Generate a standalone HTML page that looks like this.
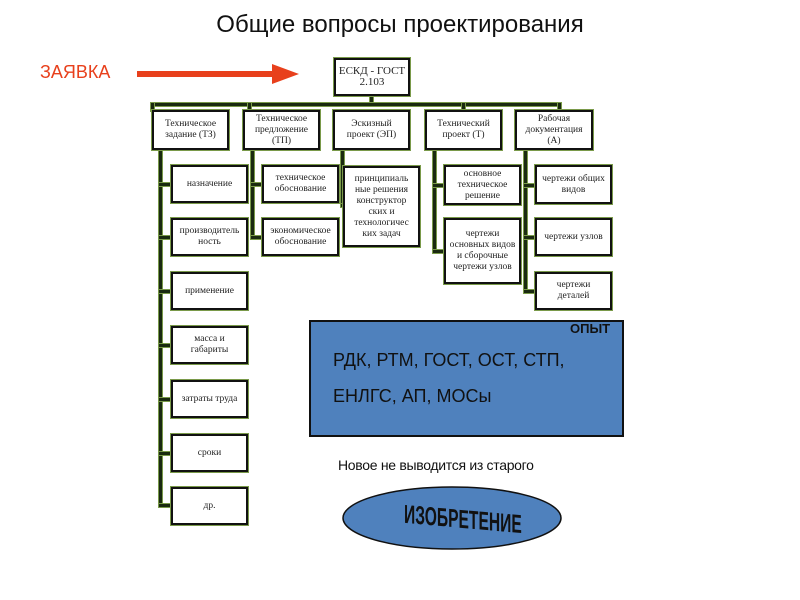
<!DOCTYPE html>
<html><head><meta charset="utf-8"><style>
body{margin:0;width:800px;height:600px;background:#fff;position:relative;overflow:hidden;font-family:"Liberation Serif","Noto Serif CJK SC",serif}
.b{position:absolute;box-sizing:border-box;border:2px solid #111;box-shadow:0 0 0 1px #7a9a4a;background:#fff;display:flex;align-items:center;justify-content:center;text-align:center;font-size:9.5px;line-height:11px;color:#222}
.l{position:absolute;background:#1a2a10;box-shadow:0 0 0 1px #7a9a4a}
.s{position:absolute;font-family:"Liberation Sans","Noto Sans CJK SC",sans-serif}
</style></head><body>
<div class="s" style="left:0;width:800px;top:11px;text-align:center;font-size:24px;color:#111">Общие вопросы проектирования</div>
<div class="s" style="left:40px;top:62px;font-size:18px;color:#e8401c">ЗАЯВКА</div>
<svg style="position:absolute;left:0;top:0" width="800" height="600">
<rect x="137" y="71" width="138" height="6" fill="#e8401c"/>
<polygon points="272,64 299,74 272,84" fill="#e8401c"/>
<ellipse cx="452" cy="518" rx="109" ry="31" fill="#4f81bd" stroke="#111" stroke-width="1.5"/>
</svg>
<div class="l" style="left:370px;top:96px;width:3px;height:9px"></div>
<div class="l" style="left:151px;top:103px;width:410px;height:3px"></div>
<div class="l" style="left:151px;top:103px;width:3px;height:8px"></div>
<div class="l" style="left:248px;top:103px;width:3px;height:8px"></div>
<div class="l" style="left:462px;top:103px;width:3px;height:8px"></div>
<div class="l" style="left:558px;top:103px;width:3px;height:8px"></div>
<div class="l" style="left:159px;top:150px;width:3px;height:356px"></div>
<div class="l" style="left:251px;top:150px;width:3px;height:88px"></div>
<div class="l" style="left:341px;top:150px;width:3px;height:56px"></div>
<div class="l" style="left:433px;top:150px;width:3px;height:102px"></div>
<div class="l" style="left:524px;top:150px;width:3px;height:142px"></div>
<div class="l" style="left:159px;top:183px;width:12px;height:3px"></div>
<div class="l" style="left:159px;top:236px;width:12px;height:3px"></div>
<div class="l" style="left:159px;top:290px;width:12px;height:3px"></div>
<div class="l" style="left:159px;top:344px;width:12px;height:3px"></div>
<div class="l" style="left:159px;top:398px;width:12px;height:3px"></div>
<div class="l" style="left:159px;top:452px;width:12px;height:3px"></div>
<div class="l" style="left:159px;top:504px;width:12px;height:3px"></div>
<div class="l" style="left:251px;top:183px;width:11px;height:3px"></div>
<div class="l" style="left:251px;top:236px;width:11px;height:3px"></div>
<div class="l" style="left:341px;top:204px;width:4px;height:3px"></div>
<div class="l" style="left:433px;top:184px;width:11px;height:3px"></div>
<div class="l" style="left:433px;top:250px;width:11px;height:3px"></div>
<div class="l" style="left:524px;top:184px;width:11px;height:3px"></div>
<div class="l" style="left:524px;top:236px;width:11px;height:3px"></div>
<div class="l" style="left:524px;top:290px;width:11px;height:3px"></div>
<div class="b" style="left:334px;top:58px;width:76px;height:38px;font-size:11px">ЕСКД - ГОСТ<br>2.103</div>
<div class="b" style="left:152px;top:110px;width:77px;height:40px">Техническое<br>задание (ТЗ)</div>
<div class="b" style="left:243px;top:110px;width:77px;height:40px">Техническое<br>предложение<br>(ТП)</div>
<div class="b" style="left:333px;top:110px;width:77px;height:40px">Эскизный<br>проект (ЭП)</div>
<div class="b" style="left:425px;top:110px;width:77px;height:40px">Технический<br>проект (Т)</div>
<div class="b" style="left:515px;top:110px;width:78px;height:40px">Рабочая<br>документация<br>(А)</div>
<div class="b" style="left:171px;top:165px;width:77px;height:38px">назначение</div>
<div class="b" style="left:171px;top:218px;width:77px;height:38px">производитель<br>ность</div>
<div class="b" style="left:171px;top:272px;width:77px;height:38px">применение</div>
<div class="b" style="left:171px;top:326px;width:77px;height:38px">масса и<br>габариты</div>
<div class="b" style="left:171px;top:380px;width:77px;height:38px">затраты труда</div>
<div class="b" style="left:171px;top:434px;width:77px;height:38px">сроки</div>
<div class="b" style="left:171px;top:487px;width:77px;height:38px">др.</div>
<div class="b" style="left:262px;top:165px;width:77px;height:38px">техническое<br>обоснование</div>
<div class="b" style="left:262px;top:218px;width:77px;height:38px">экономическое<br>обоснование</div>
<div class="b" style="left:343px;top:166px;width:77px;height:81px">принципиаль<br>ные решения<br>конструктор<br>ских и<br>технологичес<br>ких задач</div>
<div class="b" style="left:444px;top:165px;width:77px;height:40px">основное<br>техническое<br>решение</div>
<div class="b" style="left:444px;top:218px;width:77px;height:66px">чертежи<br>основных видов<br>и сборочные<br>чертежи узлов</div>
<div class="b" style="left:535px;top:165px;width:77px;height:39px">чертежи общих<br>видов</div>
<div class="b" style="left:535px;top:218px;width:77px;height:38px">чертежи узлов</div>
<div class="b" style="left:535px;top:272px;width:77px;height:38px">чертежи<br>деталей</div>
<div style="position:absolute;left:309px;top:320px;width:315px;height:117px;box-sizing:border-box;background:#4f81bd;border:2px solid #111"></div>
<div class="s" style="left:570px;top:321px;font-size:13px;font-weight:bold;color:#111">ОПЫТ</div>
<div class="s" style="left:333px;top:350px;font-size:18px;color:#111">РДК, РТМ, ГОСТ, ОСТ, СТП,</div>
<div class="s" style="left:333px;top:386px;font-size:18px;color:#111">ЕНЛГС, АП, МОСы</div>
<div class="s" style="left:338px;top:457px;font-size:14px;color:#111;letter-spacing:-0.3px">Новое не выводится из старого</div>
<div class="s" style="left:372px;top:503px;width:160px;text-align:center;font-size:26px;font-weight:bold;color:#111;transform:scaleX(0.6) skewY(3deg);transform-origin:center">ИЗОБРЕТЕНИЕ</div>
</body></html>
